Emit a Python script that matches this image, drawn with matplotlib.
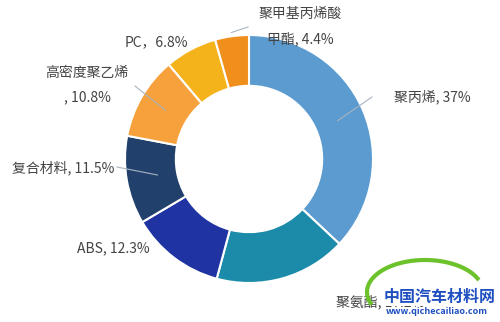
import numpy as np
import matplotlib
matplotlib.use("Agg")
import matplotlib.pyplot as plt  # noqa: E402

plt.rcParams["font.family"] = ["Noto Sans CJK SC", "DejaVu Sans"]

# data, clockwise from 12 o'clock
materials = ["聚丙烯", "聚氨酯", "ABS", "复合材料", "高密度聚乙烯", "PC", "聚甲基丙烯酸甲酯"]
shares = [37.0, 17.2, 12.3, 11.5, 10.8, 6.8, 4.4]
share_labels = ["聚丙烯, 37%", "聚氨酯, 17.2%", "ABS, 12.3%", "复合材料, 11.5%",
                "高密度聚乙烯\n, 10.8%", "PC，6.8%", "聚甲基丙烯酸\n甲酯, 4.4%"]
colors = ["#5b9bd0", "#1b8ba9", "#1f33a2", "#21406b", "#f6a13b", "#f5b31b", "#f08f1c"]

W, H = 500, 322
CX, CY, R = 249, H - 159, 124

fig = plt.figure(figsize=(W / 100, H / 100), dpi=100)
ax = fig.add_axes([0, 0, 1, 1])

wedges, _ = ax.pie(shares, colors=colors, startangle=90, counterclock=False,
                   center=(CX, CY), radius=R, frame=True,
                   wedgeprops=dict(width=R * 0.41, edgecolor="white", linewidth=1.5))
ax.set_xlim(0, W)
ax.set_ylim(0, H)
ax.axis("off")

# label anchor (pixel coords from top-left), ha
label_pos = [(394, 97, "left"), (336, 302, "left"), (77, 248, "left"),
             (12, 168, "left"), (87, 85, "center"), (125, 42, "left"),
             (300, 27, "center")]
leader_r = [0.78, 0.8, 0.8, 0.75, 0.78, 0.8, 1.03]
leader_end = [(372, 97), None, None, (117, 167), (135, 86), None, (248, 27)]

for w, lab, (x, y, ha), lr, end in zip(wedges, share_labels, label_pos, leader_r, leader_end):
    ang = np.deg2rad((w.theta1 + w.theta2) / 2)
    if end is not None:
        sx, sy = CX + R * lr * np.cos(ang), CY + R * lr * np.sin(ang)
        ex, ey = end[0], H - end[1]
        ax.plot([sx, ex], [sy, ey], color="#a8b4c0", lw=0.8, zorder=3)
    ax.text(x, H - y, lab, ha=ha, va="center", fontsize=10, color="#444444",
            linespacing=1.9, multialignment="center", zorder=4)

# site watermark over the lower right corner
t = np.linspace(np.deg2rad(200), np.deg2rad(25), 60)
ax.plot(425 + 58 * np.cos(t), H - 292 + 32 * np.sin(t), color="#6cc22a", lw=3, zorder=5)
ax.text(384, H - 297, "中国汽车材料网", fontsize=11.5, fontweight="bold", style="italic",
        color="#1f4fc0", va="center", ha="left", zorder=6,
        bbox=dict(facecolor="white", edgecolor="none", pad=0.5))
ax.text(386, H - 311, "www.qichecailiao.com", fontsize=6.5, fontweight="bold", style="italic",
        color="#1f4fc0", va="center", ha="left", zorder=6)

fig.savefig("out.png", dpi=100)
